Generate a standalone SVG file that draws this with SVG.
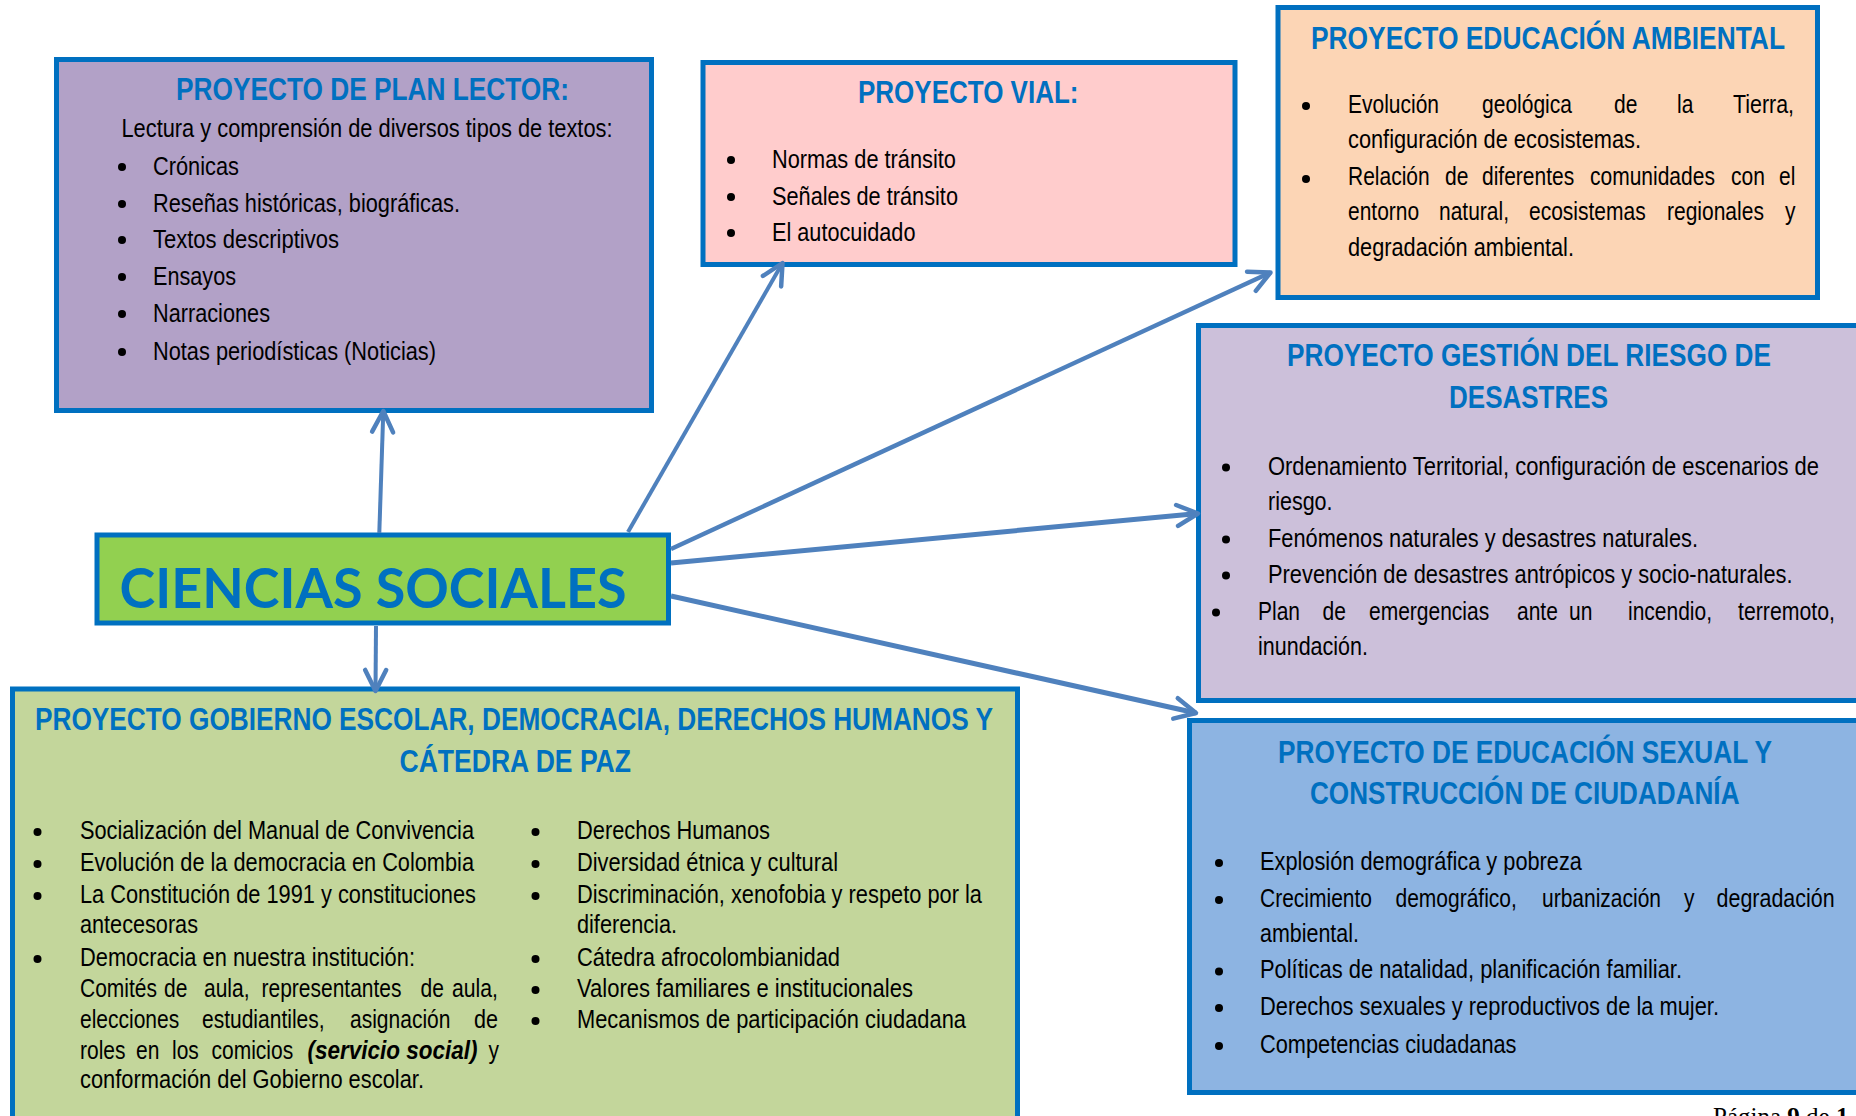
<svg xmlns="http://www.w3.org/2000/svg" width="1856" height="1116" viewBox="0 0 1856 1116">
<style>
.box{stroke:#0070C0;stroke-width:5;stroke-linejoin:miter}
.t{font-family:"Liberation Sans Narrow","Arial Narrow","Liberation Sans",Arial,sans-serif;font-size:25px;fill:#000}
.h{font-family:"Liberation Sans Narrow","Arial Narrow","Liberation Sans",Arial,sans-serif;font-size:31px;font-weight:bold;fill:#0070C0}
.big{font-family:Lato,"Open Sans","Liberation Sans",sans-serif;font-size:55px;font-weight:bold;fill:#0070C0}
.bu{fill:#000}
.c{stroke:#4F81BD;fill:none;stroke-linecap:butt}
.pg{font-family:"Liberation Serif","Times New Roman",serif;font-size:25px;fill:#000}
</style>
<defs>
<marker id="ah" markerUnits="userSpaceOnUse" markerWidth="50" markerHeight="50" refX="0" refY="0" orient="auto" overflow="visible">
<path d="M-21,-10.5 L0,0 L-21,10.5" fill="none" stroke="#4F81BD" stroke-width="4.5" stroke-linecap="round" stroke-linejoin="round"/>
</marker>
</defs>
<rect width="1856" height="1116" fill="#fff"/>

<g id="plan-lector">
<rect class="box" x="56.5" y="59.5" width="595" height="351" fill="#B2A1C7"/>
<circle class="bu" cx="122" cy="167" r="4"/>
<circle class="bu" cx="122" cy="204" r="4"/>
<circle class="bu" cx="122" cy="240" r="4"/>
<circle class="bu" cx="122" cy="277" r="4"/>
<circle class="bu" cx="122" cy="314" r="4"/>
<circle class="bu" cx="122" cy="352" r="4"/>
<g transform="scale(0.84,1)">
<text class="h" x="209.52" y="100" textLength="467.86" lengthAdjust="spacingAndGlyphs">PROYECTO DE PLAN LECTOR:</text>
<text class="t" x="144.64" y="137" textLength="584.52" lengthAdjust="spacingAndGlyphs">Lectura y comprensión de diversos tipos de textos:</text>
<text class="t" x="182.14" y="175" textLength="102.38" lengthAdjust="spacingAndGlyphs">Crónicas</text>
<text class="t" x="182.14" y="212" textLength="365.48" lengthAdjust="spacingAndGlyphs">Reseñas históricas, biográficas.</text>
<text class="t" x="182.14" y="248" textLength="221.43" lengthAdjust="spacingAndGlyphs">Textos descriptivos</text>
<text class="t" x="182.14" y="285" textLength="98.81" lengthAdjust="spacingAndGlyphs">Ensayos</text>
<text class="t" x="182.14" y="322" textLength="139.29" lengthAdjust="spacingAndGlyphs">Narraciones</text>
<text class="t" x="182.14" y="360" textLength="336.9" lengthAdjust="spacingAndGlyphs">Notas periodísticas (Noticias)</text>
</g>
</g>

<g id="proyecto-vial">
<rect class="box" x="703" y="62.5" width="532" height="202" fill="#FFCCCC"/>
<circle class="bu" cx="731" cy="160" r="4"/>
<circle class="bu" cx="731" cy="197" r="4"/>
<circle class="bu" cx="731" cy="233" r="4"/>
<g transform="scale(0.84,1)">
<text class="h" x="1021.43" y="103" textLength="262.5" lengthAdjust="spacingAndGlyphs">PROYECTO VIAL:</text>
<text class="t" x="919.05" y="168" textLength="219.05" lengthAdjust="spacingAndGlyphs">Normas de tránsito</text>
<text class="t" x="919.05" y="205" textLength="221.43" lengthAdjust="spacingAndGlyphs">Señales de tránsito</text>
<text class="t" x="919.05" y="241" textLength="170.83" lengthAdjust="spacingAndGlyphs">El autocuidado</text>
</g>
</g>

<g id="educacion-ambiental">
<rect class="box" x="1278" y="7.5" width="539.5" height="290" fill="#FCD5B5"/>
<circle class="bu" cx="1306" cy="106" r="4"/>
<circle class="bu" cx="1306" cy="179" r="4"/>
<g transform="scale(0.84,1)">
<text class="h" x="1560.71" y="49" textLength="564.29" lengthAdjust="spacingAndGlyphs">PROYECTO EDUCACIÓN AMBIENTAL</text>
<text class="t" x="1604.76" y="113" textLength="108.33" lengthAdjust="spacingAndGlyphs">Evolución</text>
<text class="t" x="1764.29" y="113" textLength="107.14" lengthAdjust="spacingAndGlyphs">geológica</text>
<text class="t" x="1921.43" y="113" textLength="27.86" lengthAdjust="spacingAndGlyphs">de</text>
<text class="t" x="1996.43" y="113" textLength="19.4" lengthAdjust="spacingAndGlyphs">la</text>
<text class="t" x="2063.1" y="113" textLength="72.62" lengthAdjust="spacingAndGlyphs">Tierra,</text>
<text class="t" x="1604.76" y="148" textLength="348.81" lengthAdjust="spacingAndGlyphs">configuración de ecosistemas.</text>
<text class="t" x="1604.76" y="185" textLength="97.26" lengthAdjust="spacingAndGlyphs">Relación</text>
<text class="t" x="1720.24" y="185" textLength="27.86" lengthAdjust="spacingAndGlyphs">de</text>
<text class="t" x="1764.29" y="185" textLength="109.76" lengthAdjust="spacingAndGlyphs">diferentes</text>
<text class="t" x="1892.86" y="185" textLength="148.69" lengthAdjust="spacingAndGlyphs">comunidades</text>
<text class="t" x="2060.71" y="185" textLength="40.36" lengthAdjust="spacingAndGlyphs">con</text>
<text class="t" x="2117.86" y="185" textLength="19.4" lengthAdjust="spacingAndGlyphs">el</text>
<text class="t" x="1604.76" y="220" textLength="84.76" lengthAdjust="spacingAndGlyphs">entorno</text>
<text class="t" x="1713.1" y="220" textLength="83.33" lengthAdjust="spacingAndGlyphs">natural,</text>
<text class="t" x="1820.24" y="220" textLength="138.93" lengthAdjust="spacingAndGlyphs">ecosistemas</text>
<text class="t" x="1984.52" y="220" textLength="115.36" lengthAdjust="spacingAndGlyphs">regionales</text>
<text class="t" x="2125" y="220" textLength="12.5" lengthAdjust="spacingAndGlyphs">y</text>
<text class="t" x="1604.76" y="256" textLength="269.05" lengthAdjust="spacingAndGlyphs">degradación ambiental.</text>
</g>
</g>

<g id="gestion-riesgo">
<rect class="box" x="1198.5" y="325.5" width="700" height="375" fill="#CCC0DA"/>
<circle class="bu" cx="1226" cy="467.5" r="4"/>
<circle class="bu" cx="1226" cy="539.5" r="4"/>
<circle class="bu" cx="1226" cy="575.5" r="4"/>
<circle class="bu" cx="1216" cy="612.5" r="4"/>
<g transform="scale(0.84,1)">
<text class="h" x="1532.14" y="366" textLength="576.19" lengthAdjust="spacingAndGlyphs">PROYECTO GESTIÓN DEL RIESGO DE</text>
<text class="h" x="1725" y="408" textLength="189.29" lengthAdjust="spacingAndGlyphs">DESASTRES</text>
<text class="t" x="1509.52" y="475" textLength="655.95" lengthAdjust="spacingAndGlyphs">Ordenamiento Territorial, configuración de escenarios de</text>
<text class="t" x="1509.52" y="510" textLength="76.9" lengthAdjust="spacingAndGlyphs">riesgo.</text>
<text class="t" x="1509.52" y="547" textLength="511.9" lengthAdjust="spacingAndGlyphs">Fenómenos naturales y desastres naturales.</text>
<text class="t" x="1509.52" y="583" textLength="624.52" lengthAdjust="spacingAndGlyphs">Prevención de desastres antrópicos y socio-naturales.</text>
<text class="t" x="1497.62" y="620" textLength="50" lengthAdjust="spacingAndGlyphs">Plan</text>
<text class="t" x="1574.4" y="620" textLength="27.86" lengthAdjust="spacingAndGlyphs">de</text>
<text class="t" x="1629.76" y="620" textLength="143.1" lengthAdjust="spacingAndGlyphs">emergencias</text>
<text class="t" x="1805.95" y="620" textLength="48.69" lengthAdjust="spacingAndGlyphs">ante</text>
<text class="t" x="1867.86" y="620" textLength="27.86" lengthAdjust="spacingAndGlyphs">un</text>
<text class="t" x="1938.1" y="620" textLength="100" lengthAdjust="spacingAndGlyphs">incendio,</text>
<text class="t" x="2069.05" y="620" textLength="115.48" lengthAdjust="spacingAndGlyphs">terremoto,</text>
<text class="t" x="1497.62" y="655" textLength="130.95" lengthAdjust="spacingAndGlyphs">inundación.</text>
</g>
</g>

<g id="educacion-sexual">
<rect class="box" x="1189.5" y="720.5" width="700" height="372" fill="#8DB4E2"/>
<circle class="bu" cx="1219" cy="863" r="4"/>
<circle class="bu" cx="1219" cy="900" r="4"/>
<circle class="bu" cx="1219" cy="971.5" r="4"/>
<circle class="bu" cx="1219" cy="1008" r="4"/>
<circle class="bu" cx="1219" cy="1046" r="4"/>
<g transform="scale(0.84,1)">
<text class="h" x="1521.43" y="763" textLength="588.1" lengthAdjust="spacingAndGlyphs">PROYECTO DE EDUCACIÓN SEXUAL Y</text>
<text class="h" x="1559.52" y="804" textLength="511.31" lengthAdjust="spacingAndGlyphs">CONSTRUCCIÓN DE CIUDADANÍA</text>
<text class="t" x="1500" y="870" textLength="383.33" lengthAdjust="spacingAndGlyphs">Explosión demográfica y pobreza</text>
<text class="t" x="1500" y="907" textLength="133.33" lengthAdjust="spacingAndGlyphs">Crecimiento</text>
<text class="t" x="1661.31" y="907" textLength="144.52" lengthAdjust="spacingAndGlyphs">demográfico,</text>
<text class="t" x="1835.71" y="907" textLength="141.67" lengthAdjust="spacingAndGlyphs">urbanización</text>
<text class="t" x="2004.76" y="907" textLength="12.5" lengthAdjust="spacingAndGlyphs">y</text>
<text class="t" x="2043.57" y="907" textLength="140.48" lengthAdjust="spacingAndGlyphs">degradación</text>
<text class="t" x="1500" y="942" textLength="117.86" lengthAdjust="spacingAndGlyphs">ambiental.</text>
<text class="t" x="1500" y="978" textLength="502.38" lengthAdjust="spacingAndGlyphs">Políticas de natalidad, planificación familiar.</text>
<text class="t" x="1500" y="1015" textLength="546.43" lengthAdjust="spacingAndGlyphs">Derechos sexuales y reproductivos de la mujer.</text>
<text class="t" x="1500" y="1053" textLength="305.36" lengthAdjust="spacingAndGlyphs">Competencias ciudadanas</text>
</g>
</g>

<g id="gobierno-escolar">
<rect class="box" x="12.5" y="689" width="1005" height="500" fill="#C3D69B"/>
<circle class="bu" cx="37.5" cy="832" r="4"/>
<circle class="bu" cx="37.5" cy="864" r="4"/>
<circle class="bu" cx="37.5" cy="896" r="4"/>
<circle class="bu" cx="37.5" cy="959" r="4"/>
<circle class="bu" cx="535.5" cy="832" r="4"/>
<circle class="bu" cx="535.5" cy="864" r="4"/>
<circle class="bu" cx="535.5" cy="896" r="4"/>
<circle class="bu" cx="535.5" cy="959" r="4"/>
<circle class="bu" cx="535.5" cy="990" r="4"/>
<circle class="bu" cx="535.5" cy="1021" r="4"/>
<g transform="scale(0.84,1)">
<text class="h" x="41.67" y="730" textLength="1140.48" lengthAdjust="spacingAndGlyphs">PROYECTO GOBIERNO ESCOLAR, DEMOCRACIA, DERECHOS HUMANOS Y</text>
<text class="h" x="475.6" y="772" textLength="275.6" lengthAdjust="spacingAndGlyphs">CÁTEDRA DE PAZ</text>
<text class="t" x="95.24" y="839" textLength="469.05" lengthAdjust="spacingAndGlyphs">Socialización del Manual de Convivencia</text>
<text class="t" x="95.24" y="871" textLength="469.05" lengthAdjust="spacingAndGlyphs">Evolución de la democracia en Colombia</text>
<text class="t" x="95.24" y="903" textLength="471.43" lengthAdjust="spacingAndGlyphs">La Constitución de 1991 y constituciones</text>
<text class="t" x="95.24" y="933" textLength="140.48" lengthAdjust="spacingAndGlyphs">antecesoras</text>
<text class="t" x="95.24" y="966" textLength="398.81" lengthAdjust="spacingAndGlyphs">Democracia en nuestra institución:</text>
<text class="t" x="95.24" y="997" textLength="91.67" lengthAdjust="spacingAndGlyphs">Comités</text>
<text class="t" x="195.24" y="997" textLength="27.86" lengthAdjust="spacingAndGlyphs">de</text>
<text class="t" x="242.86" y="997" textLength="54.17" lengthAdjust="spacingAndGlyphs">aula,</text>
<text class="t" x="311.31" y="997" textLength="166.67" lengthAdjust="spacingAndGlyphs">representantes</text>
<text class="t" x="500.6" y="997" textLength="27.86" lengthAdjust="spacingAndGlyphs">de</text>
<text class="t" x="538.1" y="997" textLength="54.76" lengthAdjust="spacingAndGlyphs">aula,</text>
<text class="t" x="95.24" y="1028" textLength="118.1" lengthAdjust="spacingAndGlyphs">elecciones</text>
<text class="t" x="240.48" y="1028" textLength="145.95" lengthAdjust="spacingAndGlyphs">estudiantiles,</text>
<text class="t" x="416.67" y="1028" textLength="119.52" lengthAdjust="spacingAndGlyphs">asignación</text>
<text class="t" x="564.29" y="1028" textLength="28.57" lengthAdjust="spacingAndGlyphs">de</text>
<text class="t" x="95.24" y="1059" textLength="54.17" lengthAdjust="spacingAndGlyphs">roles</text>
<text class="t" x="161.9" y="1059" textLength="27.86" lengthAdjust="spacingAndGlyphs">en</text>
<text class="t" x="204.76" y="1059" textLength="31.9" lengthAdjust="spacingAndGlyphs">los</text>
<text class="t" x="251.79" y="1059" textLength="97.26" lengthAdjust="spacingAndGlyphs">comicios</text>
<text class="t" x="366.07" y="1059" textLength="202.38" lengthAdjust="spacingAndGlyphs" font-weight="bold" font-style="italic">(servicio social)</text>
<text class="t" x="581.55" y="1059" textLength="12.5" lengthAdjust="spacingAndGlyphs">y</text>
<text class="t" x="95.24" y="1088" textLength="409.52" lengthAdjust="spacingAndGlyphs">conformación del Gobierno escolar.</text>
<text class="t" x="686.9" y="839" textLength="229.76" lengthAdjust="spacingAndGlyphs">Derechos Humanos</text>
<text class="t" x="686.9" y="871" textLength="310.71" lengthAdjust="spacingAndGlyphs">Diversidad étnica y cultural</text>
<text class="t" x="686.9" y="903" textLength="482.14" lengthAdjust="spacingAndGlyphs">Discriminación, xenofobia y respeto por la</text>
<text class="t" x="686.9" y="933" textLength="119.05" lengthAdjust="spacingAndGlyphs">diferencia.</text>
<text class="t" x="686.9" y="966" textLength="313.1" lengthAdjust="spacingAndGlyphs">Cátedra afrocolombianidad</text>
<text class="t" x="686.9" y="997" textLength="400" lengthAdjust="spacingAndGlyphs">Valores familiares e institucionales</text>
<text class="t" x="686.9" y="1028" textLength="463.1" lengthAdjust="spacingAndGlyphs">Mecanismos de participación ciudadana</text>
</g>
</g>

<g id="ciencias-sociales">
<rect class="box" x="97" y="535" width="571.5" height="88" fill="#92D050"/>
<text class="big" x="119.6" y="608" textLength="507" lengthAdjust="spacingAndGlyphs">CIENCIAS SOCIALES</text>
</g>

<g id="connectors">
<path class="c" stroke-width="4" d="M379.3,533 L383.3,411" marker-end="url(#ah)"/>
<path class="c" stroke-width="4" d="M628,532 L782.5,263" marker-end="url(#ah)"/>
<path class="c" stroke-width="4.5" d="M671,549 L1270.5,272.5" marker-end="url(#ah)"/>
<path class="c" stroke-width="5" d="M671,563 L1198,513.5" marker-end="url(#ah)"/>
<path class="c" stroke-width="5" d="M671,596 L1196,713" marker-end="url(#ah)"/>
<path class="c" stroke-width="4" d="M376,626 L375.5,691" marker-end="url(#ah)"/>
</g>

<text class="pg" x="1713" y="1125">Página <tspan font-weight="bold">9</tspan> de <tspan font-weight="bold">1</tspan></text>
</svg>
